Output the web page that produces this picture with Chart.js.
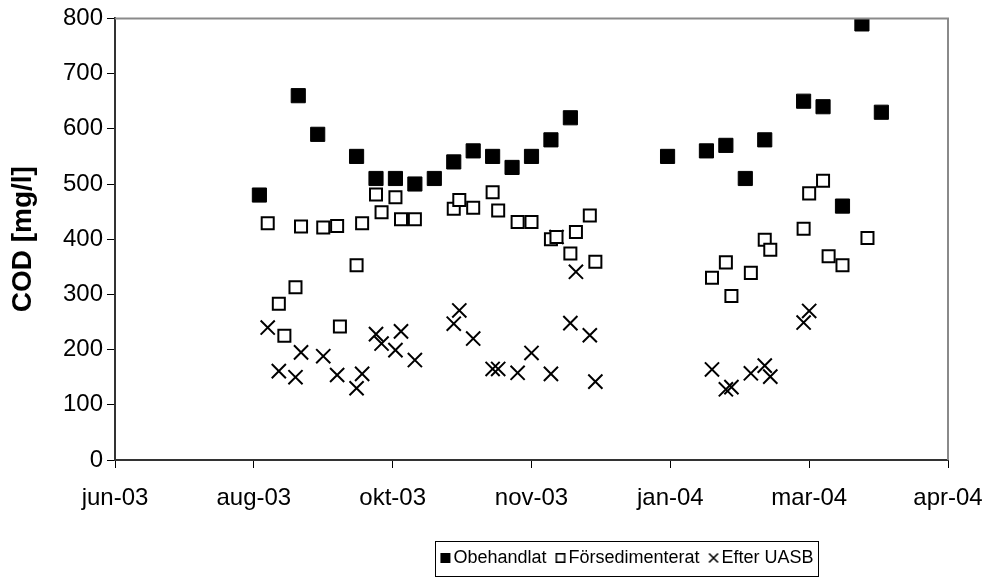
<!DOCTYPE html>
<html>
<head>
<meta charset="utf-8">
<script src="https://cdn.jsdelivr.net/npm/chart.js@4.4.1/dist/chart.umd.min.js"></script>
<style>
html,body{margin:0;padding:0;background:#ffffff;}
#wrap{width:988px;height:577px;position:relative;}
</style>
</head>
<body>
<div id="wrap"><canvas id="c" width="988" height="577"></canvas></div>
<script>
// ---- axis / labels ----
const axisStart = '2003-06-25';
const tickStepDays = 50;
const tickLabels = ['jun-03', 'aug-03', 'okt-03', 'nov-03', 'jan-04', 'mar-04', 'apr-04'];
const yMin = 0, yMax = 800, yStep = 100;
const yTitle = 'COD [mg/l]';
const seriesNames = ['Obehandlat', 'Försedimenterat', 'Efter UASB'];

// ---- data ----
const obehandlatDatum = ['2003-08-16','2003-08-30','2003-09-06','2003-09-20','2003-09-27','2003-10-04','2003-10-11','2003-10-18','2003-10-25','2003-11-01','2003-11-08','2003-11-15','2003-11-22','2003-11-29','2003-12-06','2004-01-10','2004-01-24','2004-01-31','2004-02-07','2004-02-14','2004-02-28','2004-03-06','2004-03-13','2004-03-20','2004-03-27'];
const obehandlatCOD = [480,660,590,550,510,510,500,510,540,560,550,530,550,580,620,550,560,570,510,580,650,640,460,790,630];

const forsedDatum = ['2003-08-19','2003-08-23','2003-08-25','2003-08-29','2003-08-31','2003-09-08','2003-09-13','2003-09-14','2003-09-20','2003-09-22','2003-09-27','2003-09-29','2003-10-04','2003-10-06','2003-10-11','2003-10-25','2003-10-27','2003-11-01','2003-11-08','2003-11-10','2003-11-17','2003-11-22','2003-11-29','2003-12-01','2003-12-06','2003-12-08','2003-12-13','2003-12-15','2004-01-26','2004-01-31','2004-02-02','2004-02-09','2004-02-14','2004-02-16','2004-02-28','2004-03-01','2004-03-06','2004-03-08','2004-03-13','2004-03-22'];
const forsedCOD = [429,283,225,313,423,421,424,242,353,429,481,449,476,436,436,455,471,457,485,452,431,431,400,404,374,413,443,359,330,358,297,339,399,381,419,483,506,369,353,402];

const uasbDatum = ['2003-08-19','2003-08-23','2003-08-29','2003-08-31','2003-09-08','2003-09-13','2003-09-20','2003-09-22','2003-09-27','2003-09-29','2003-10-04','2003-10-06','2003-10-11','2003-10-25','2003-10-27','2003-11-01','2003-11-08','2003-11-10','2003-11-17','2003-11-22','2003-11-29','2003-12-01','2003-12-06','2003-12-08','2003-12-13','2003-12-15','2004-01-26','2004-01-31','2004-02-02','2004-02-09','2004-02-14','2004-02-16','2004-02-28','2004-03-01'];
const uasbCOD = [240,161,150,195,188,154,130,156,228,211,199,233,181,247,271,220,165,165,158,194,156,404,248,341,226,142,164,128,132,157,171,151,249,270];

// ---- helpers ----
const DAY = 86400000;
const startMs = Date.parse(axisStart);
const toDay = s => (Date.parse(s) - startMs) / DAY;
const pts = (dates, vals) => dates.map((d, i) => ({x: toDay(d), y: vals[i]}));

const FONT = "'Liberation Sans', Arial, sans-serif";

// small legend icons: marker sits right of the icon centre so the gap to the text is narrow
function legendIcon(kind) {
  const c = document.createElement('canvas');
  c.width = 24; c.height = 12;
  const g = c.getContext('2d');
  const cx = 16, cy = 6;
  g.strokeStyle = '#000'; g.fillStyle = '#000';
  if (kind === 0) {
    g.fillRect(cx - 5, cy - 5, 10, 10);
  } else if (kind === 1) {
    g.lineWidth = 1.6;
    g.strokeRect(cx - 4.2, cy - 4.2, 8.4, 8.4);
  } else {
    g.lineWidth = 1.6;
    g.beginPath();
    g.moveTo(cx - 4.5, cy - 4.5); g.lineTo(cx + 4.5, cy + 4.5);
    g.moveTo(cx + 4.5, cy - 4.5); g.lineTo(cx - 4.5, cy + 4.5);
    g.stroke();
  }
  return c;
}
const legendIcons = [legendIcon(0), legendIcon(1), legendIcon(2)];

const frame = {
  id: 'frame',
  afterDatasetsDraw(chart) {
    const {ctx, chartArea: a} = chart;
    ctx.save();
    ctx.strokeStyle = '#8a8a8a';
    ctx.lineWidth = 2;
    ctx.beginPath();
    ctx.moveTo(a.left, a.top);
    ctx.lineTo(a.right, a.top);
    ctx.lineTo(a.right, a.bottom);
    ctx.stroke();
    ctx.restore();
  }
};

const legendCenterX = 626;
const legendShift = {
  id: 'legendShift',
  afterLayout(chart) {
    const lg = chart.legend;
    if (!lg) return;
    const dx = legendCenterX - (lg.left + lg.right) / 2;
    lg.left += dx; lg.right += dx;
  }
};

const legendBox = {
  id: 'legendBox',
  afterDraw(chart) {
    const lg = chart.legend;
    if (!lg || !lg.legendHitBoxes.length) return;
    const hb = lg.legendHitBoxes;
    let l = Infinity, r = -Infinity, t = Infinity, b = -Infinity;
    hb.forEach(h => { l = Math.min(l, h.left); r = Math.max(r, h.left + h.width); t = Math.min(t, h.top); b = Math.max(b, h.top + h.height); });
    const {ctx} = chart;
    ctx.save();
    ctx.strokeStyle = '#000';
    ctx.lineWidth = 1;
    ctx.strokeRect(Math.round(l - 3) + 0.5, Math.round(t - 8) + 0.5, Math.round(r - l + 8), Math.round(b - t + 17));
    ctx.restore();
  }
};

new Chart(document.getElementById('c'), {
  type: 'scatter',
  data: {
    datasets: [
      {
        label: seriesNames[0],
        data: pts(obehandlatDatum, obehandlatCOD),
        pointStyle: 'rect', pointRadius: 10,
        backgroundColor: '#000', borderColor: '#000', borderWidth: 1
      },
      {
        label: seriesNames[1],
        data: pts(forsedDatum, forsedCOD),
        pointStyle: 'rect', pointRadius: 8.5,
        backgroundColor: '#fff', borderColor: '#000', borderWidth: 2
      },
      {
        label: seriesNames[2],
        data: pts(uasbDatum, uasbCOD),
        pointStyle: 'crossRot', pointRadius: 10,
        backgroundColor: '#000', borderColor: '#000', borderWidth: 2
      }
    ]
  },
  options: {
    responsive: false,
    animation: false,
    events: [],
    devicePixelRatio: 1,
    layout: {padding: {top: 17, right: 40, left: 0, bottom: 0}},
    scales: {
      x: {
        type: 'linear',
        position: 'bottom',
        min: 0,
        max: tickStepDays * (tickLabels.length - 1),
        afterBuildTicks: s => { s.ticks = tickLabels.map((_, i) => ({value: i * tickStepDays})); },
        afterFit: s => { s.height = 82; s.paddingRight = 0; s.paddingLeft = 0; },
        ticks: {
          callback: (v, i) => tickLabels[i],
          autoSkip: false, maxRotation: 0, minRotation: 0,
          color: '#000', padding: 16,
          font: {family: FONT, size: 24}
        },
        grid: {drawOnChartArea: false, drawTicks: true, tickLength: 8, tickColor: '#000', tickWidth: 1},
        border: {color: '#333', width: 2}
      },
      y: {
        min: yMin, max: yMax,
        afterFit: s => { s.width = 115; },
        ticks: {
          stepSize: yStep, color: '#000', padding: 4,
          font: {family: FONT, size: 24}
        },
        title: {
          display: true, text: yTitle, color: '#000',
          font: {family: FONT, size: 28, weight: 'bold'},
          padding: {top: 6, bottom: 0}
        },
        grid: {drawOnChartArea: false, drawTicks: true, tickLength: 8, tickColor: '#000', tickWidth: 1},
        border: {color: '#333', width: 2}
      }
    },
    plugins: {
      tooltip: {enabled: false},
      legend: {
        display: true,
        position: 'bottom',
        labels: {
          usePointStyle: true,
          boxHeight: 10,
          pointStyleWidth: 6,
          padding: 7,
          color: '#000',
          font: {family: FONT, size: 18},
          generateLabels: chart => {
            const items = Chart.defaults.plugins.legend.labels.generateLabels(chart);
            items.forEach((it, i) => { it.pointStyle = legendIcons[i]; });
            return items;
          }
        }
      }
    }
  },
  plugins: [frame, legendShift, legendBox]
});
</script>
</body>
</html>
